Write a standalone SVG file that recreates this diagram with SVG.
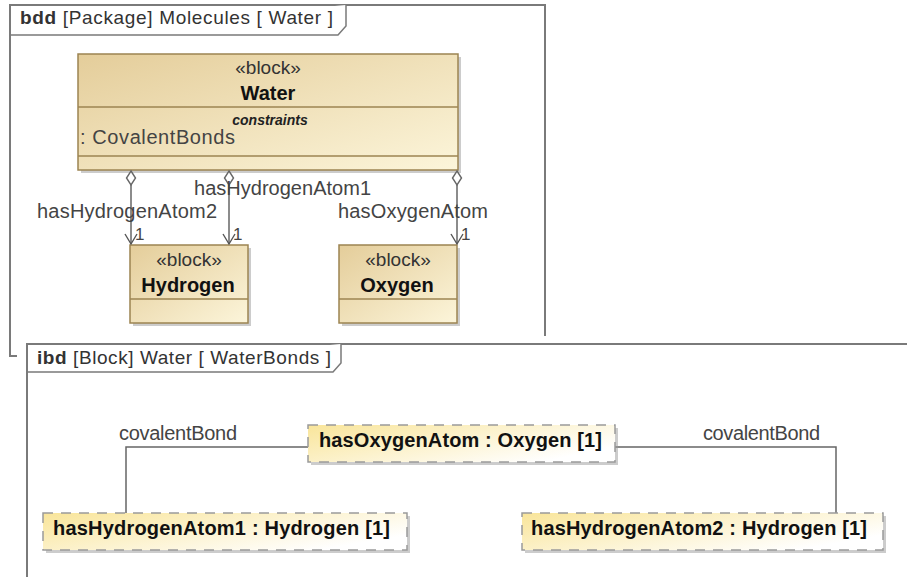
<svg xmlns="http://www.w3.org/2000/svg" width="907" height="577" viewBox="0 0 907 577">
<defs>
<linearGradient id="blk" x1="0" y1="0" x2="1" y2="1">
<stop offset="0" stop-color="#e4cd9a"/>
<stop offset="1" stop-color="#fcf5da"/>
</linearGradient>
<linearGradient id="prt" x1="0" y1="0" x2="1" y2="0.6">
<stop offset="0" stop-color="#f9e59a"/>
<stop offset="1" stop-color="#ffffff"/>
</linearGradient>
<marker id="arr" markerUnits="userSpaceOnUse" markerWidth="14" markerHeight="14" refX="7" refY="12" viewBox="0 0 14 14" overflow="visible">
<path d="M1,2 L7,12 L13,2" fill="none" stroke="#555" stroke-width="1.4"/>
</marker>
</defs>
<style>
text{font-family:"Liberation Sans",Arial,sans-serif;}
.frame{fill:none;stroke:#7a7a7a;stroke-width:2;}
.tab{fill:#fff;stroke:#7a7a7a;stroke-width:1.5;}
.ttl{font-size:19px;fill:#333;}
.blk{fill:url(#blk);stroke:#9c8452;stroke-width:1.5;}
.div{stroke:#9c8452;stroke-width:1.5;}
.shd{fill:#9a9a9a;opacity:0.5;}
.prt{fill:url(#prt);stroke:#9a9a9a;stroke-width:1.5;stroke-dasharray:10,8;}
.ster{font-size:19px;fill:#333;text-anchor:middle;}
.name{font-size:20px;font-weight:bold;fill:#111;text-anchor:middle;}
.lbl{font-size:20px;fill:#444;}
.plbl{font-size:20px;font-weight:bold;fill:#111;}
.con{fill:none;stroke:#666;stroke-width:1.5;}
.diam{fill:#fff;stroke:#666;stroke-width:1.4;}
.mul{font-size:17px;fill:#444;}
</style>

<g id="bdd-frame">
<path class="frame" d="M17,356 H10 V5 H545 V336"/>
<path class="tab" d="M10,35 H338 L346,26 V5"/>
<text class="ttl" x="20" y="24" textLength="313" lengthAdjust="spacing"><tspan font-weight="bold">bdd</tspan> [Package] Molecules [ Water ]</text>
</g>

<g id="Water">
<rect class="shd" x="81" y="57" width="380" height="116"/>
<rect class="blk" x="78" y="54" width="380" height="116"/>
<line class="div" x1="78" y1="107" x2="458" y2="107"/>
<line class="div" x1="78" y1="156" x2="458" y2="156"/>
<text class="ster" x="268" y="74">«block»</text>
<text class="name" x="268" y="100">Water</text>
<text x="270" y="125" text-anchor="middle" font-size="14" font-weight="bold" font-style="italic" fill="#222">constraints</text>
<text x="80" y="144" font-size="20" fill="#444" textLength="155" lengthAdjust="spacing">: CovalentBonds</text>
</g>

<g id="Hydrogen">
<rect class="shd" x="133" y="248" width="118" height="78"/>
<rect class="blk" x="130" y="245" width="118" height="78"/>
<line class="div" x1="130" y1="299" x2="248" y2="299"/>
<text class="ster" x="189" y="266">«block»</text>
<text class="name" x="188" y="292">Hydrogen</text>
</g>

<g id="Oxygen">
<rect class="shd" x="342" y="248" width="118" height="78"/>
<rect class="blk" x="339" y="245" width="118" height="78"/>
<line class="div" x1="339" y1="299" x2="457" y2="299"/>
<text class="ster" x="398" y="266">«block»</text>
<text class="name" x="397" y="292">Oxygen</text>
</g>

<g id="bdd-connectors">
<line class="con" x1="131" y1="185" x2="131" y2="244" marker-end="url(#arr)"/>
<polygon class="diam" points="131,171 135.5,178 131,185 126.5,178"/>
<line class="con" x1="229" y1="185" x2="229" y2="244" marker-end="url(#arr)"/>
<polygon class="diam" points="229,171 233.5,178 229,185 224.5,178"/>
<line class="con" x1="457" y1="185" x2="457" y2="244" marker-end="url(#arr)"/>
<polygon class="diam" points="457,171 461.5,178 457,185 452.5,178"/>
<text class="lbl" x="194" y="195" textLength="177" lengthAdjust="spacing">hasHydrogenAtom1</text>
<text class="lbl" x="37" y="218" textLength="180" lengthAdjust="spacing">hasHydrogenAtom2</text>
<text class="lbl" x="338" y="218" textLength="150" lengthAdjust="spacing">hasOxygenAtom</text>
<text class="mul" x="135" y="240">1</text>
<text class="mul" x="233" y="240">1</text>
<text class="mul" x="461" y="240">1</text>
</g>

<g id="ibd-frame">
<rect x="27" y="344" width="880" height="233" fill="#fff"/>
<path class="frame" d="M27,577 V344 H907"/>
<path class="tab" d="M27,372 H333 L341,363 V344"/>
<text class="ttl" x="37" y="364" textLength="294" lengthAdjust="spacing"><tspan font-weight="bold">ibd</tspan> [Block] Water [ WaterBonds ]</text>
</g>

<g id="ibd-connectors">
<polyline class="con" points="309,447 126,447 126,513"/>
<polyline class="con" points="615,447 836,447 836,513"/>
<text class="lbl" x="119" y="440" font-size="19" textLength="118" lengthAdjust="spacing">covalentBond</text>
<text class="lbl" x="703" y="440" font-size="19" textLength="117" lengthAdjust="spacing">covalentBond</text>
</g>

<g id="hasOxygenAtom">
<rect class="shd" x="311" y="428" width="307" height="37"/>
<rect class="prt" x="308" y="425" width="307" height="37"/>
<text class="plbl" x="319" y="447" textLength="283" lengthAdjust="spacing">hasOxygenAtom : Oxygen [1]</text>
</g>

<g id="hasHydrogenAtom1">
<rect class="shd" x="46" y="516" width="364" height="37"/>
<rect class="prt" x="43" y="513" width="364" height="37"/>
<text class="plbl" x="53" y="535" textLength="337" lengthAdjust="spacing">hasHydrogenAtom1 : Hydrogen [1]</text>
</g>

<g id="hasHydrogenAtom2">
<rect class="shd" x="525" y="516" width="361" height="37"/>
<rect class="prt" x="522" y="513" width="361" height="37"/>
<text class="plbl" x="531" y="535" textLength="336" lengthAdjust="spacing">hasHydrogenAtom2 : Hydrogen [1]</text>
</g>
</svg>
